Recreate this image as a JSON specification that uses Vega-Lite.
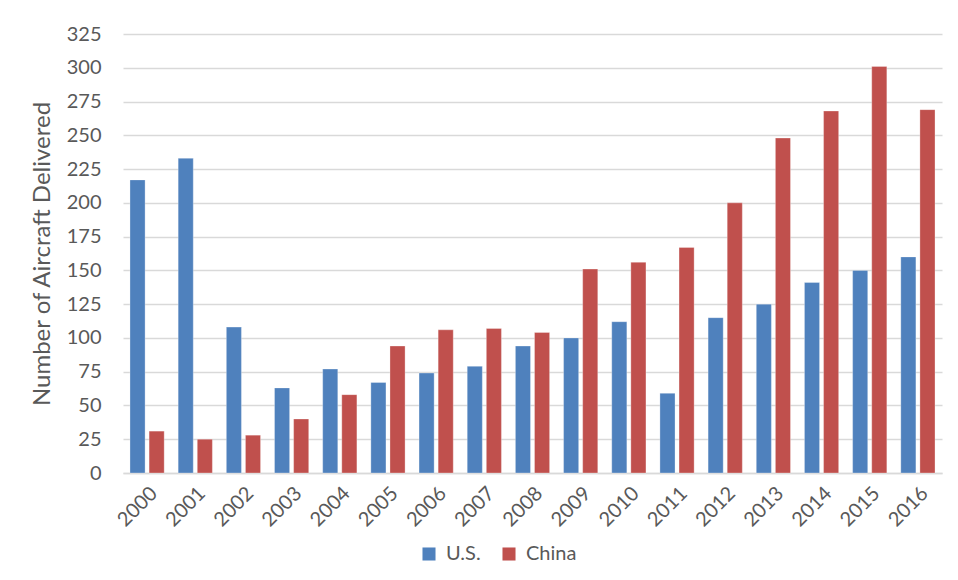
{
  "$schema": "https://vega.github.io/schema/vega-lite/v6.json",
  "width": 819,
  "height": 439,
  "autosize": {"type": "none"},
  "padding": {"left": 123, "top": 34, "right": 16, "bottom": 107},
  "background": "white",
  "config": {
    "view": {"stroke": null},
    "font": "Lato"
  },
  "data": {
    "values": [
      {"year": "2000", "country": "U.S.", "value": 217}, {"year": "2000", "country": "China", "value": 31},
      {"year": "2001", "country": "U.S.", "value": 233}, {"year": "2001", "country": "China", "value": 25},
      {"year": "2002", "country": "U.S.", "value": 108}, {"year": "2002", "country": "China", "value": 28},
      {"year": "2003", "country": "U.S.", "value": 63}, {"year": "2003", "country": "China", "value": 40},
      {"year": "2004", "country": "U.S.", "value": 77}, {"year": "2004", "country": "China", "value": 58},
      {"year": "2005", "country": "U.S.", "value": 67}, {"year": "2005", "country": "China", "value": 94},
      {"year": "2006", "country": "U.S.", "value": 74}, {"year": "2006", "country": "China", "value": 106},
      {"year": "2007", "country": "U.S.", "value": 79}, {"year": "2007", "country": "China", "value": 107},
      {"year": "2008", "country": "U.S.", "value": 94}, {"year": "2008", "country": "China", "value": 104},
      {"year": "2009", "country": "U.S.", "value": 100}, {"year": "2009", "country": "China", "value": 151},
      {"year": "2010", "country": "U.S.", "value": 112}, {"year": "2010", "country": "China", "value": 156},
      {"year": "2011", "country": "U.S.", "value": 59}, {"year": "2011", "country": "China", "value": 167},
      {"year": "2012", "country": "U.S.", "value": 115}, {"year": "2012", "country": "China", "value": 200},
      {"year": "2013", "country": "U.S.", "value": 125}, {"year": "2013", "country": "China", "value": 248},
      {"year": "2014", "country": "U.S.", "value": 141}, {"year": "2014", "country": "China", "value": 268},
      {"year": "2015", "country": "U.S.", "value": 150}, {"year": "2015", "country": "China", "value": 301},
      {"year": "2016", "country": "U.S.", "value": 160}, {"year": "2016", "country": "China", "value": 269}
    ]
  },
  "mark": {"type": "bar", "stroke": "white", "strokeWidth": 0.6, "strokeOpacity": 0.5},
  "encoding": {
    "x": {
      "field": "year", "type": "nominal",
      "scale": {"paddingInner": 0.29, "paddingOuter": 0.145},
      "axis": {
        "title": null, "labelAngle": -45, "labelFontSize": 20, "labelColor": "#595959",
        "ticks": false, "domainColor": "#D9D9D9", "domainWidth": 1.5, "labelPadding": 10
      }
    },
    "xOffset": {"field": "country", "type": "nominal", "sort": ["U.S.", "China"], "scale": {"paddingInner": 0.21}},
    "y": {
      "field": "value", "type": "quantitative",
      "scale": {"domain": [0, 325]},
      "axis": {
        "title": "Number of Aircraft Delivered", "titleFontSize": 24, "titleFontWeight": "normal",
        "titleColor": "#595959", "titlePadding": 12,
        "values": [0, 25, 50, 75, 100, 125, 150, 175, 200, 225, 250, 275, 300, 325],
        "labelFontSize": 20, "labelColor": "#595959", "labelPadding": 22,
        "ticks": false, "domain": false, "gridColor": "#D9D9D9", "gridWidth": 1.5
      }
    },
    "color": {
      "field": "country", "type": "nominal", "sort": ["U.S.", "China"],
      "scale": {"domain": ["U.S.", "China"], "range": ["#4F81BD", "#C0504D"]},
      "legend": {
        "title": null, "orient": "none", "direction": "horizontal",
        "legendX": 296, "legendY": 510,
        "symbolType": "square", "symbolSize": 170, "symbolStrokeWidth": 0,
        "labelFontSize": 20, "labelColor": "#595959", "labelOffset": 7, "columnPadding": 18
      }
    }
  }
}
